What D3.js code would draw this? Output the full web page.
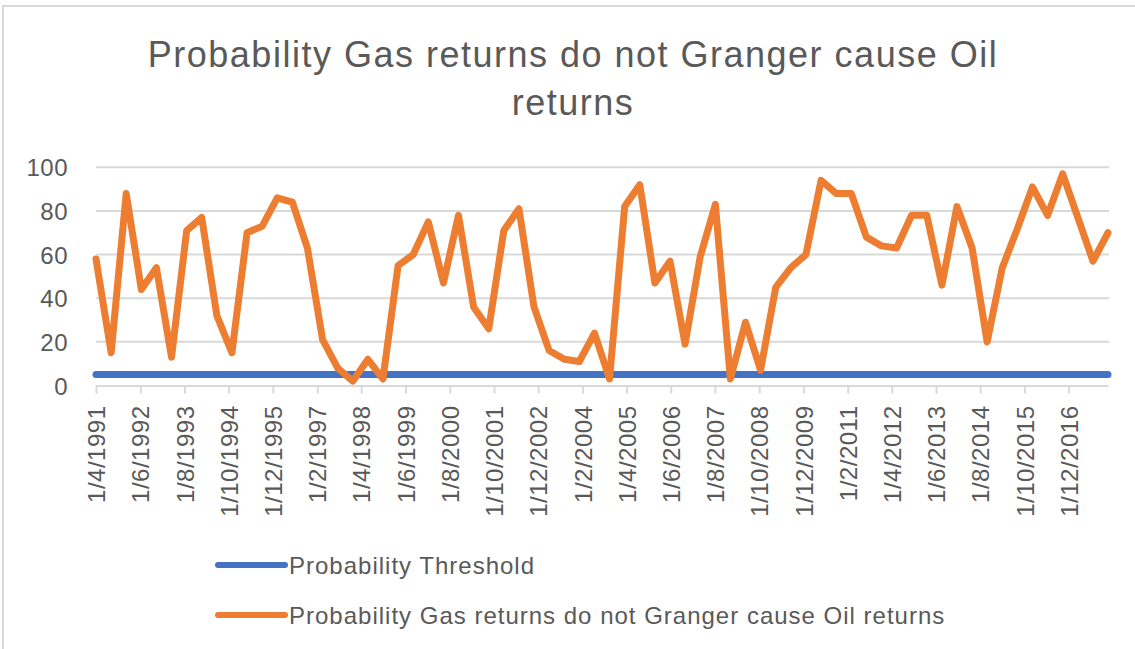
<!DOCTYPE html>
<meta charset="utf-8">
<style>

body {
  margin: 0;
  background: #fff;
  font-family: "Liberation Sans", Arial, sans-serif;
}

.axis text {
  fill: #595959;
  font-size: 24px;
  letter-spacing: 0.5px;
}

.axis path,
.axis line {
  stroke: #d9d9d9;
  stroke-width: 2;
}

.grid line {
  stroke: #d9d9d9;
  stroke-width: 2;
}

.series {
  fill: none;
  stroke-width: 7;
  stroke-linejoin: round;
  stroke-linecap: round;
}

</style>
<body>

<script src="https://d3js.org/d3.v7.min.js"></script>

<script>

var title = ["Probability Gas returns do not Granger cause Oil", "returns"];

var seriesNames = ["Probability Threshold",
                   "Probability Gas returns do not Granger cause Oil returns"];

var seriesColors = ["#4472c4", "#ed7d31"];

// x tick labels, d/m/yyyy
var tickLabels = ["1/4/1991", "1/6/1992", "1/8/1993", "1/10/1994", "1/12/1995",
                  "1/2/1997", "1/4/1998", "1/6/1999", "1/8/2000", "1/10/2001",
                  "1/12/2002", "1/2/2004", "1/4/2005", "1/6/2006", "1/8/2007",
                  "1/10/2008", "1/12/2009", "1/2/2011", "1/4/2012", "1/6/2013",
                  "1/8/2014", "1/10/2015", "1/12/2016"];

var yTicks = [0, 20, 40, 60, 80, 100];

// probability values (%)
var gasValues = [58, 15, 88, 44, 54, 13, 71, 77, 32, 15,
                 70, 73, 86, 84, 63, 21, 8, 2, 12, 3,
                 55, 60, 75, 47, 78, 36, 26, 71, 81, 36,
                 16, 12, 11, 24, 3, 82, 92, 47, 57, 19,
                 59, 83, 3, 29, 7, 45, 54, 60, 94, 88,
                 88, 68, 64, 63, 78, 78, 46, 82, 63, 20,
                 54, 72, 91, 78, 97, 77, 57, 70];

var thresholdValues = [5, 5, 5, 5, 5, 5, 5, 5, 5, 5,
                       5, 5, 5, 5, 5, 5, 5, 5, 5, 5,
                       5, 5, 5, 5, 5, 5, 5, 5, 5, 5,
                       5, 5, 5, 5, 5, 5, 5, 5, 5, 5,
                       5, 5, 5, 5, 5, 5, 5, 5, 5, 5,
                       5, 5, 5, 5, 5, 5, 5, 5, 5, 5,
                       5, 5, 5, 5, 5, 5, 5, 5];

var width = 1135,
    height = 649;

var plot = {left: 96, right: 1108, top: 167.3, bottom: 385.5};

var parseDate = d3.timeParse("%d/%m/%Y");
var tickDates = tickLabels.map(parseDate);

// observations roughly every 145.6 days from the first label date
var start = tickDates[0];
var dates = gasValues.map(function(d, i) { return d3.timeDay.offset(start, Math.round(i * 145.6)); });

var x = d3.scaleTime()
    .domain([start, dates[dates.length - 1]])
    .range([plot.left, plot.right]);

var y = d3.scaleLinear()
    .domain([0, 100])
    .range([plot.bottom, plot.top]);

var svg = d3.select("body").append("svg")
    .attr("width", width)
    .attr("height", height);

// chart border (right/bottom edges fall outside the picture)
svg.append("rect")
    .attr("x", 3)
    .attr("y", 6)
    .attr("width", width + 10)
    .attr("height", height + 10)
    .attr("fill", "#fff")
    .attr("stroke", "#d9d9d9")
    .attr("stroke-width", 2);

var titleText = svg.append("text")
    .attr("text-anchor", "middle")
    .attr("fill", "#595959")
    .style("font-size", "36px")
    .style("letter-spacing", "1.5px");

titleText.selectAll("tspan")
    .data(title)
  .enter().append("tspan")
    .attr("x", 573)
    .attr("y", function(d, i) { return 67 + i * 48; })
    .text(function(d) { return d; });

// gridlines
svg.append("g")
    .attr("class", "grid")
  .selectAll("line")
    .data(yTicks.filter(function(d) { return d > 0; }))
  .enter().append("line")
    .attr("x1", plot.left)
    .attr("x2", plot.right + 1)
    .attr("y1", function(d) { return y(d); })
    .attr("y2", function(d) { return y(d); });

var yAxis = svg.append("g")
    .attr("class", "y axis")
    .attr("transform", "translate(" + (plot.left - 28) + ",0)")
    .call(d3.axisLeft(y).tickValues(yTicks).tickSize(0).tickPadding(0));

yAxis.select(".domain").remove();
yAxis.selectAll("text").attr("dy", "0.36em");

var xAxis = svg.append("g")
    .attr("class", "x axis")
    .attr("transform", "translate(0," + plot.bottom + ")")
    .call(d3.axisBottom(x)
      .tickValues(tickDates)
      .tickFormat(function(d, i) { return tickLabels[i]; })
      .tickSizeInner(8)
      .tickSizeOuter(0));

xAxis.selectAll("text")
    .attr("transform", "rotate(-90)")
    .attr("x", -20)
    .attr("y", 0)
    .attr("dy", "0.36em")
    .style("text-anchor", "end");

var line = d3.line()
    .x(function(d) { return x(d.date); })
    .y(function(d) { return y(d.value); });

var series = [thresholdValues, gasValues].map(function(vals, k) {
  return {
    name: seriesNames[k],
    color: seriesColors[k],
    points: vals.map(function(v, i) { return {date: dates[i], value: v}; })
  };
});

svg.selectAll(".series")
    .data(series)
  .enter().append("path")
    .attr("class", "series")
    .attr("stroke", function(d) { return d.color; })
    .attr("d", function(d) { return line(d.points); });

// legend
var legend = svg.selectAll(".legend")
    .data(series)
  .enter().append("g")
    .attr("class", "legend")
    .attr("transform", function(d, i) { return "translate(218," + (565 + i * 50) + ")"; });

legend.append("line")
    .attr("x1", 0)
    .attr("x2", 67)
    .attr("stroke", function(d) { return d.color; })
    .attr("stroke-width", 6)
    .attr("stroke-linecap", "round");

legend.append("text")
    .attr("x", 71)
    .attr("dy", "0.36em")
    .attr("fill", "#595959")
    .style("font-size", "24px")
    .style("letter-spacing", "1px")
    .text(function(d) { return d.name; });

</script>
</body>
